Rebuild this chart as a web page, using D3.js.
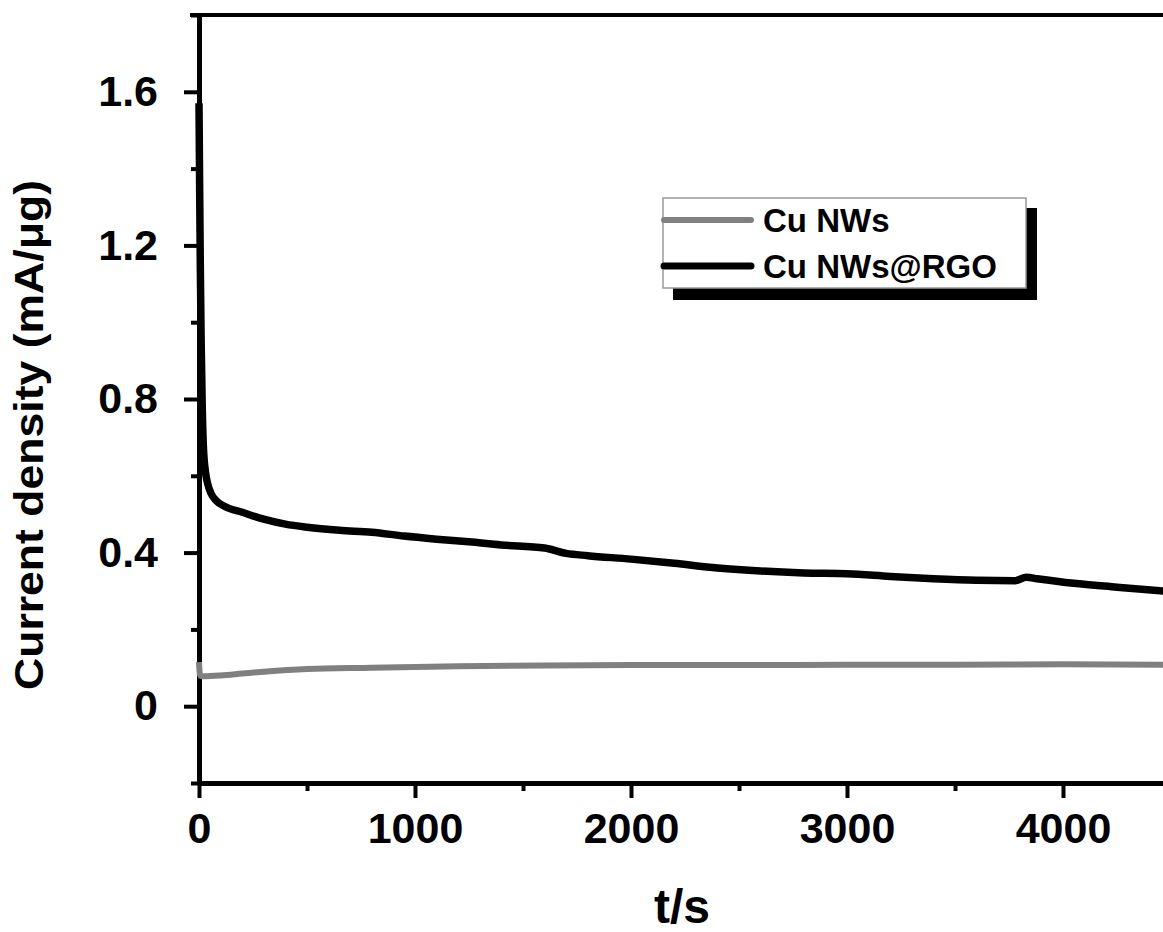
<!DOCTYPE html>
<html>
<head>
<meta charset="utf-8">
<script src="https://cdn.jsdelivr.net/npm/d3@7"></script>
<style>
  html, body { margin: 0; padding: 0; background: #fff; }
  svg { display: block; font-family: "Liberation Sans", Arial, sans-serif; font-weight: bold; }
</style>
</head>
<body>
<div id="chart"></div>
<script>
/* Chronoamperometry: Cu NWs vs Cu NWs@RGO */
const rgoT = [0, 3, 6, 10, 15, 20, 30, 40, 55, 80, 120, 200, 300, 400, 500, 650, 800, 950, 1100, 1250,
              1400, 1600, 1700, 1800, 2000, 2200, 2400, 2600, 2800, 3000, 3200, 3400, 3600, 3780, 3830,
              3880, 4050, 4250, 4500];
const rgoV = [1.57, 1.35, 1.15, 0.95, 0.78, 0.68, 0.61, 0.58, 0.555, 0.535, 0.52, 0.505, 0.487, 0.474, 0.466,
              0.458, 0.453, 0.443, 0.435, 0.428, 0.42, 0.412, 0.398, 0.392, 0.383, 0.372, 0.36, 0.352, 0.347,
              0.345, 0.338, 0.332, 0.328, 0.327, 0.336, 0.332, 0.32, 0.31, 0.298];
const cuT = [0, 5, 20, 100, 200, 300, 500, 800, 1200, 1600, 2000, 2500, 3000, 3500, 4000, 4500];
const cuV = [0.115, 0.08, 0.078, 0.08, 0.085, 0.09, 0.097, 0.1, 0.104, 0.106, 0.107, 0.107, 0.108, 0.108, 0.109, 0.108];

const seriesNames = ["Cu NWs", "Cu NWs@RGO"];
const seriesColors = ["#808080", "#000000"];

const xMajor = [0, 1000, 2000, 3000, 4000];
const xMinor = [500, 1500, 2500, 3500, 4500];
const yMajor = [0, 0.4, 0.8, 1.2, 1.6];
const yMajorLabels = ["0", "0.4", "0.8", "1.2", "1.6"];
const yMinor = [-0.2, 0.2, 0.6, 1.0, 1.4, 1.8];

const W = 1163, H = 932;
const svg = d3.select("#chart").append("svg").attr("width", W).attr("height", H);

const x = d3.scaleLinear().domain([0, 4500]).range([199, 1171]);
const y = d3.scaleLinear().domain([-0.2, 1.8]).range([783, 15]);

// top frame line
svg.append("line")
  .attr("x1", 190).attr("x2", W).attr("y1", y(1.8)).attr("y2", y(1.8))
  .attr("stroke", "#000").attr("stroke-width", 4);

function styleAxis(g) {
  g.select(".domain").attr("stroke", "#000").attr("stroke-width", 5);
  g.selectAll(".tick line").attr("stroke", "#000").attr("stroke-width", 4);
  g.selectAll(".tick text").attr("fill", "#000").attr("font-size", 43).attr("font-weight", "bold");
}

// y axis
svg.append("g").attr("transform", `translate(${x(0)},0)`)
  .call(d3.axisLeft(y).tickValues(yMinor).tickSize(8).tickSizeOuter(0).tickFormat(""))
  .call(styleAxis);
svg.append("g").attr("transform", `translate(${x(0)},0)`)
  .call(d3.axisLeft(y).tickValues(yMajor).tickSize(15).tickSizeOuter(0).tickPadding(26)
    .tickFormat((d, i) => yMajorLabels[i]))
  .call(styleAxis);

// x axis
svg.append("g").attr("transform", `translate(0,${y(-0.2)})`)
  .call(d3.axisBottom(x).tickValues(xMinor).tickSize(8).tickSizeOuter(0).tickFormat(""))
  .call(styleAxis);
svg.append("g").attr("transform", `translate(0,${y(-0.2)})`)
  .call(d3.axisBottom(x).tickValues(xMajor).tickSize(15).tickSizeOuter(0).tickPadding(14)
    .tickFormat(d3.format("d")))
  .call(styleAxis);

// series
const line = d3.line().x(d => x(d[0])).y(d => y(d[1])).curve(d3.curveMonotoneX);
const cuData = cuT.map((t, i) => [t, cuV[i]]);
const rgoData = rgoT.map((t, i) => [t, rgoV[i]]);

svg.append("path").datum(cuData).attr("d", line)
  .attr("fill", "none").attr("stroke", seriesColors[0]).attr("stroke-width", 6)
  .attr("stroke-linejoin", "round");
svg.append("path").datum(rgoData).attr("d", line)
  .attr("fill", "none").attr("stroke", seriesColors[1]).attr("stroke-width", 7.5)
  .attr("stroke-linejoin", "round");

// axis titles
svg.append("text")
  .attr("x", 682).attr("y", 923).attr("text-anchor", "middle")
  .attr("font-size", 48).text("t/s");
svg.append("text")
  .attr("transform", "translate(43,435) rotate(-90)")
  .attr("text-anchor", "middle").attr("font-size", 40)
  .attr("textLength", 510).attr("lengthAdjust", "spacingAndGlyphs")
  .text("Current density (mA/μg)");

// legend with drop shadow
const lg = svg.append("g");
lg.append("rect").attr("x", 673).attr("y", 208).attr("width", 364).attr("height", 92).attr("fill", "#000");
lg.append("rect").attr("x", 663).attr("y", 198).attr("width", 363).attr("height", 90)
  .attr("fill", "#fff").attr("stroke", "#999").attr("stroke-width", 1.5);
const legY = [220, 266];
seriesNames.forEach((name, i) => {
  lg.append("line").attr("x1", 664).attr("x2", 751).attr("y1", legY[i]).attr("y2", legY[i])
    .attr("stroke", seriesColors[i]).attr("stroke-width", i ? 7 : 6).attr("stroke-linecap", "round");
  lg.append("text").attr("x", 763).attr("y", legY[i] + 12).attr("font-size", 33).text(name);
});
</script>
</body>
</html>
